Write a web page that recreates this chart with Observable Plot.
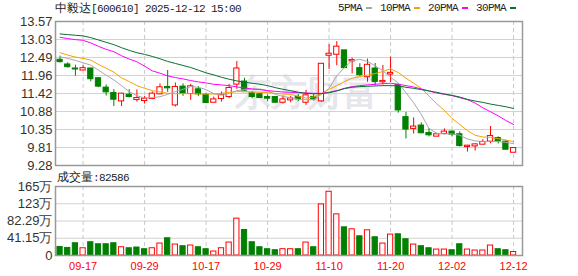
<!DOCTYPE html>
<html><head><meta charset="utf-8">
<script src="https://cdn.jsdelivr.net/npm/d3@7"></script>
<script src="https://cdn.jsdelivr.net/npm/@observablehq/plot@0.6"></script>
<style>
body{margin:0;background:#fff;}
#wrap{position:relative;width:578px;height:276px;overflow:hidden;font-family:"Liberation Sans",Arial,sans-serif;}
.t{position:absolute;font-size:12px;color:#222;white-space:nowrap;z-index:2;line-height:14px;}
.mono{font-family:"Liberation Mono",monospace;font-size:11px;letter-spacing:-0.6px;}
.pane{position:absolute;left:0;z-index:1;}
#legend{display:flex;align-items:center;}
#legend .it{display:flex;align-items:center;margin-right:8px;}
#legend .dash{display:inline-block;width:6px;height:2px;margin-left:4px;}
</style></head><body><div id="wrap">
<div class="t" id="title" style="left:55px;top:1px">中毅达<span class="mono">[600610] 2025-12-12 15:00</span></div>
<div class="t" id="legend" style="left:338px;top:1px"></div>
<div class="pane" id="price" style="top:0"></div>
<div class="t" id="volLabel" style="left:57px;top:170px">成交量<span class="mono">:82586</span></div>
<div class="pane" id="vol" style="top:175px"></div>
</div>
<script>
const dates = ["09-12","09-15","09-16","09-17","09-18","09-19","09-22","09-23","09-24","09-25","09-26","09-29","09-30",
"10-09","10-10","10-13","10-14","10-15","10-16","10-17","10-20","10-21","10-22","10-23","10-24","10-27","10-28","10-29","10-30","10-31",
"11-03","11-04","11-05","11-06","11-07","11-10","11-11","11-12","11-13","11-14","11-17","11-18","11-19","11-20","11-21","11-24","11-25","11-26","11-27","11-28",
"12-01","12-02","12-03","12-04","12-05","12-08","12-09","12-10","12-11","12-12"];
const open  = [12.43,12.29,12.17,12.11,12.17,11.88,11.60,11.44,11.19,11.39,11.23,11.20,11.26,11.40,11.62,11.07,11.63,11.41,11.55,11.39,11.15,11.26,11.32,11.69,11.78,11.43,11.40,11.32,11.32,11.15,11.22,11.32,11.15,11.32,11.19,12.55,12.58,12.71,12.38,12.18,11.91,12.17,11.76,11.99,11.68,10.72,10.37,10.47,10.25,10.14,10.22,10.29,10.21,9.83,9.85,9.90,9.99,10.10,9.99,9.66];
const high  = [12.54,12.34,12.27,12.25,12.18,11.89,11.68,11.54,11.43,11.54,11.53,11.34,11.47,11.71,12.11,11.74,11.71,11.70,11.63,11.41,11.32,11.47,11.70,12.38,11.88,11.49,11.42,11.38,11.33,11.35,11.34,11.39,11.52,11.40,12.32,12.88,12.97,12.71,12.48,12.31,12.45,12.32,12.26,12.51,11.71,10.86,10.70,10.55,10.38,10.23,10.37,10.31,10.28,9.88,9.92,10.05,10.44,10.13,10.02,9.80];
const low   = [12.33,12.18,11.94,12.11,11.77,11.60,11.35,11.04,11.04,11.29,11.17,11.11,11.24,11.39,11.46,11.02,11.34,11.22,11.33,11.13,11.15,11.17,11.27,11.55,11.48,11.27,11.28,11.19,11.14,11.11,11.15,11.18,11.07,11.20,11.16,12.14,12.25,12.18,12.01,11.94,11.76,11.65,11.68,11.75,10.84,10.07,10.22,10.23,10.13,10.14,10.20,10.14,9.83,9.68,9.71,9.90,9.93,9.92,9.75,9.66];
const close = [12.36,12.21,12.14,12.18,11.85,11.63,11.46,11.24,11.42,11.32,11.29,11.27,11.42,11.61,11.58,11.62,11.42,11.64,11.40,11.14,11.25,11.39,11.59,12.17,11.51,11.32,11.29,11.27,11.15,11.25,11.28,11.25,11.37,11.25,12.31,12.61,12.82,12.18,12.42,11.97,12.28,11.77,11.80,12.04,10.92,10.35,10.44,10.24,10.18,10.21,10.29,10.20,9.86,9.87,9.91,9.98,10.16,10.00,9.75,9.80];
// volume in 万 (10k)
const volume = [20.4,18.1,29.2,17.3,31.6,26.8,26.8,29.2,19.7,17.3,19.0,15.0,17.3,28.5,41.1,26.1,22.1,23.8,19.7,15.0,9.5,17.3,30.9,87.9,60.8,31.6,19.7,15.0,12.6,15.0,15.0,15.0,30.9,19.7,121.8,152.0,98.1,67.2,62.5,45.8,60.1,43.5,28.5,49.9,50.6,38.7,26.1,22.1,17.3,14.2,14.2,12.6,26.8,14.2,11.9,11.9,23.8,15.0,12.6,8.2586];
const ma5  = [12.52,12.47,12.41,12.34,12.27,12.12,11.97,11.83,11.66,11.48,11.36,11.29,11.30,11.33,11.40,11.48,11.55,11.63,11.61,11.54,11.42,11.37,11.43,11.51,11.54,11.56,11.56,11.51,11.40,11.34,11.30,11.25,11.24,11.24,11.40,11.58,11.95,12.20,12.40,12.44,12.38,12.25,12.10,11.91,11.74,11.45,11.15,10.80,10.38,10.24,10.22,10.22,10.18,10.07,10.01,10.00,10.00,9.99,9.97,9.93];
const ma10 = [12.64,12.57,12.51,12.47,12.42,12.29,12.18,12.06,11.89,11.78,11.66,11.58,11.51,11.47,11.43,11.42,11.42,11.42,11.41,11.41,11.41,11.43,11.46,11.48,11.48,11.47,11.46,11.45,11.43,11.41,11.40,11.34,11.29,11.32,11.42,11.55,11.66,11.78,11.88,11.93,11.97,12.02,12.08,12.16,12.05,11.88,11.73,11.58,11.35,11.12,10.92,10.68,10.50,10.32,10.18,10.13,10.12,10.08,10.04,9.99];
const ma20 = [13.10,13.06,13.03,13.01,12.93,12.83,12.74,12.67,12.55,12.45,12.37,12.24,12.10,12.03,11.95,11.90,11.86,11.81,11.77,11.74,11.70,11.68,11.66,11.62,11.59,11.56,11.54,11.51,11.49,11.47,11.46,11.45,11.44,11.43,11.43,11.46,11.51,11.58,11.63,11.66,11.68,11.70,11.72,11.73,11.70,11.66,11.62,11.56,11.50,11.44,11.40,11.36,11.30,11.24,11.14,11.00,10.88,10.76,10.62,10.50];
const ma30 = [13.20,13.18,13.16,13.14,13.09,13.02,12.95,12.88,12.79,12.71,12.64,12.59,12.53,12.46,12.38,12.32,12.26,12.20,12.12,12.04,11.98,11.91,11.85,11.80,11.76,11.73,11.70,11.66,11.60,11.55,11.51,11.46,11.43,11.42,11.42,11.45,11.50,11.57,11.61,11.63,11.64,11.65,11.66,11.66,11.65,11.61,11.58,11.54,11.50,11.46,11.41,11.37,11.32,11.25,11.20,11.16,11.11,11.07,11.03,10.98];
const maNames  = ["5PMA","10PMA","20PMA","30PMA"];
const maColors = ["#a8a8a8","#f5a300","#ff00ff","#0a7030"];
const priceTicks = [9.28,9.816,10.353,10.889,11.425,11.961,12.498,13.034,13.57];
const priceTickLabels = ["9.28","9.81","10.35","10.88","11.42","11.96","12.49","13.03","13.57"];
const volTicks = [0,41.145,82.29,123.435,164.58];
const volTickLabels = ["0","41.15万","82.29万","123万","165万"];
const xTickLabels = ["09-17","09-29","10-17","10-29","11-10","11-20","12-02","12-12"];

const RED = "#ff0000", GREEN = "#008000";
const xTickIdx = xTickLabels.map(l => dates.indexOf(l));
const candles = dates.map((d, i) => ({
  i, o: open[i], h: high[i], l: low[i], c: close[i], v: volume[i],
  up: close[i] > open[i],
  vup: i > 0 ? close[i] > close[i-1] : close[i] > open[i]
}));
const maSeries = [ma5, ma10, ma20, ma30];
const maData = maSeries.flatMap((arr, k) => arr.map((v, i) => ({i, v, k})));

// legend
const leg = document.getElementById("legend");
maNames.forEach((n, k) => {
  const it = document.createElement("span"); it.className = "it";
  it.innerHTML = `<span class="mono">${n}</span><span class="dash" style="background:${maColors[k]}"></span>`;
  leg.appendChild(it);
});

const W = 578, ML = 55, MR = 56;
const xDomain = [-0.59, 60.16];
const half = 0.34;
const font = {background:"transparent", fontFamily:"'Liberation Sans', Arial, sans-serif", fontSize:"13px", color:"#333"};

const price = Plot.plot({
  width: W, height: 175, marginLeft: ML, marginRight: MR, marginTop: 21, marginBottom: 10,
  x: {type: "linear", domain: xDomain, axis: null},
  y: {domain: [9.28, 13.57], axis: null},
  color: {type: "identity"},
  style: font,
  marks: [
    Plot.text(["东方财富"], {frameAnchor: "middle", dx: 18, dy: 0, fontSize: 36, fontWeight: "bold", fill: "#e6e6ec"}),
    Plot.ruleY(priceTicks, {stroke: "#d2d2d2"}),
    Plot.ruleX(xTickIdx, {stroke: "#c8c8c8", strokeDasharray: "4,3"}),
    Plot.ruleX(candles, {x: "i", y1: "l", y2: "h", stroke: d => d.up ? RED : GREEN}),
    Plot.rect(candles, {x1: d => d.i - half, x2: d => d.i + half, y1: "o", y2: "c",
      fill: d => d.up ? "#fff" : GREEN, stroke: d => d.up ? RED : GREEN}),
    ...maSeries.map((arr, k) => Plot.line(maData.filter(d => d.k === k), {x: "i", y: "v", stroke: maColors[k], strokeWidth: 1})),
    Plot.frame({stroke: "#999", strokeWidth: 1.5}),
    Plot.axisY(priceTicks, {label: null, tickSize: 0, tickPadding: 3, tickFormat: d => priceTickLabels[priceTicks.indexOf(d)], fill: "#333"})
  ]
});
document.getElementById("price").appendChild(price);

const vol = Plot.plot({
  width: W, height: 101, marginLeft: ML, marginRight: MR, marginTop: 11, marginBottom: 21,
  x: {type: "linear", domain: xDomain, axis: null},
  y: {domain: [0, 164.58], axis: null},
  color: {type: "identity"},
  style: font,
  marks: [
    Plot.ruleY(volTicks, {stroke: "#d2d2d2"}),
    Plot.ruleX(xTickIdx, {stroke: "#c8c8c8", strokeDasharray: "4,3"}),
    Plot.rect(candles, {x1: d => d.i - half, x2: d => d.i + half, y1: 0, y2: "v",
      fill: d => d.vup ? "#fff" : GREEN, stroke: d => d.vup ? RED : GREEN}),
    Plot.frame({stroke: "#999", strokeWidth: 1.5}),
    Plot.axisY(volTicks, {label: null, tickSize: 0, tickPadding: 3, tickFormat: d => volTickLabels[volTicks.indexOf(d)], fill: "#333"}),
    Plot.axisX(xTickIdx, {label: null, tickSize: 0, tickPadding: 7, tickFormat: i => dates[i], fill: RED, fontSize: 11})
  ]
});
document.getElementById("vol").appendChild(vol);
</script>
</body></html>
